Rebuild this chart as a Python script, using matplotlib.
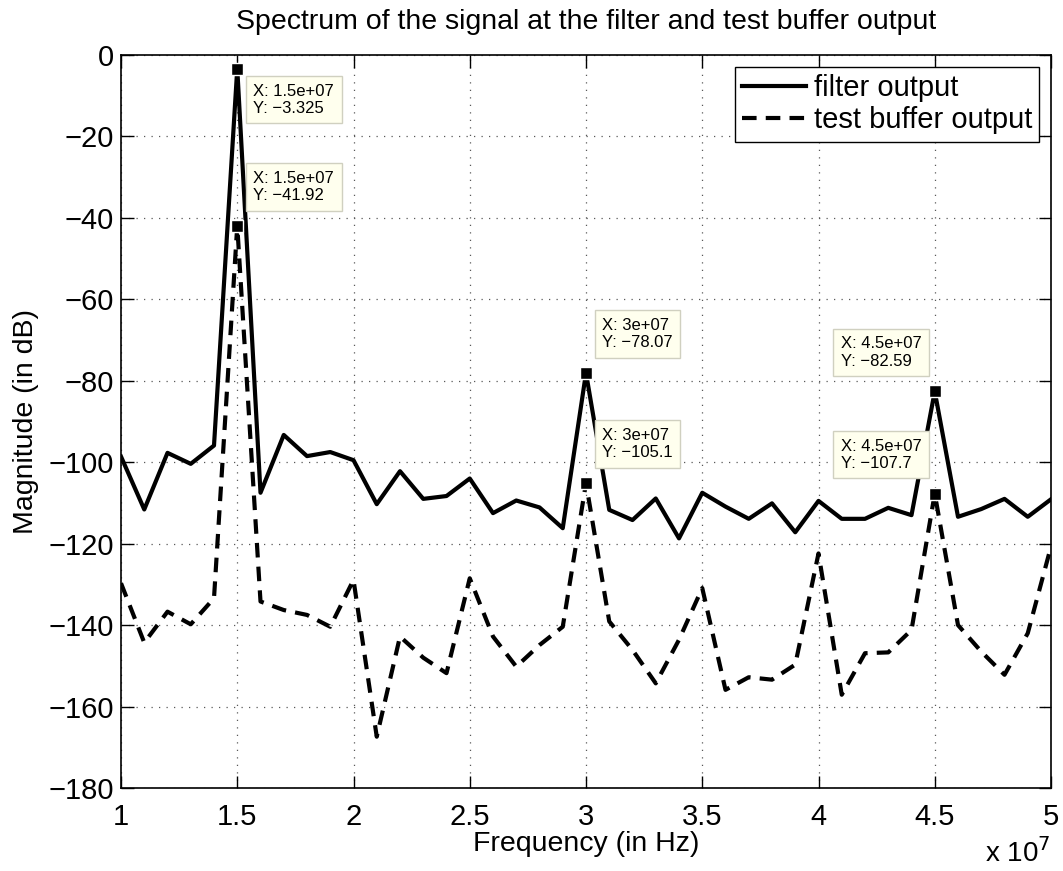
import numpy as np
import matplotlib
matplotlib.use('Agg')
import matplotlib.pyplot as plt

plt.rcParams['font.family'] = ['Liberation Sans', 'DejaVu Sans']

# frequency axis, 10 MHz to 50 MHz in 1 MHz steps
freq = np.arange(10, 51) * 1e6

filter_out = [-98.6, -111.6, -97.7, -100.4, -95.9, -3.325, -107.5, -93.3, -98.5, -97.5,
              -99.5, -110.3, -102.2, -109.0, -108.3, -104.0, -112.5, -109.4, -111.1, -116.2,
              -78.07, -111.7, -114.2, -108.9, -118.7, -107.5, -110.9, -113.9, -110.1, -117.2,
              -109.5, -113.9, -113.9, -111.2, -113.0, -82.59, -113.4, -111.5, -109.0, -113.4,
              -109.1]

buffer_out = [-129.7, -144.3, -136.7, -139.8, -133.4, -41.92, -134.2, -136.3, -137.5, -140.4,
              -128.9, -167.4, -142.8, -148.0, -151.8, -128.5, -142.8, -150.2, -144.9, -140.4,
              -105.1, -139.1, -146.1, -154.3, -143.6, -130.9, -155.9, -152.8, -153.4, -149.7,
              -122.4, -157.1, -146.9, -146.7, -141.2, -107.7, -140.0, -146.5, -152.2, -142.0,
              -120.7]

# data tips: (x, y, text offset in pixels)
tips_x = [1.5e7, 1.5e7, 3e7, 3e7, 4.5e7, 4.5e7]
tips_y = [-3.325, -41.92, -78.07, -105.1, -82.59, -107.7]
tips_lbl = ['1.5e+07', '1.5e+07', '3e+07', '3e+07', '4.5e+07', '4.5e+07']
tips_off = [(16, -15), (16, 55), (16, 55), (16, 55), (-94, 55), (-94, 55)]

W, H = 1063, 871
fig = plt.figure(figsize=(W / 100, H / 100), dpi=100)
ax = fig.add_axes([121 / W, 1 - 788 / H, 930 / W, 733 / H])

ax.plot(freq, filter_out, color='k', lw=3, label='filter output')
ax.plot(freq, buffer_out, color='k', lw=3, dashes=(3.5, 2.2), label='test buffer output')

ax.set_xlim(1e7, 5e7)
ax.set_ylim(-180, 0)
xt = np.arange(1, 5.01, 0.5)
ax.set_xticks(xt * 1e7)
ax.set_xticklabels(['%g' % v for v in xt])
ax.set_yticks(np.arange(-180, 1, 20))

ax.tick_params(direction='in', top=True, right=True, length=9, width=1,
               labelsize=21)
ax.tick_params(axis='x', pad=11)
ax.tick_params(axis='y', pad=5)
ax.grid(True, color='0.35', linestyle=(0, (1, 5)), lw=0.9)
for s in ax.spines.values():
    s.set_linewidth(1.2)

for x, y, lbl, off in zip(tips_x, tips_y, tips_lbl, tips_off):
    ax.plot([x], [y], 's', color='k', ms=9, mec='white', mew=1, zorder=5)
    ax.annotate('X: %s\nY: \u2212%s' % (lbl, ('%g' % -y)), xy=(x, y),
                xytext=off, textcoords='offset pixels', ha='left', va='top',
                fontsize=12, linespacing=1.2, zorder=6,
                bbox=dict(boxstyle='square,pad=0.45', fc='#ffffee', ec='#d0d0c0', lw=1))

ax.set_title('Spectrum of the signal at the filter and test buffer output',
             fontsize=20.5, pad=19)
ax.set_xlabel('Frequency (in Hz)', fontsize=20.5, labelpad=0)
ax.set_ylabel('Magnitude (in dB)', fontsize=20.5, labelpad=7)
fig.text(985 / W, 1 - 862 / H, 'x 10$^{7}$', fontsize=20, ha='left', va='baseline')

leg = ax.legend(loc='upper right', fontsize=21, handlelength=2.2,
                handletextpad=0.25, borderpad=0.25, labelspacing=0.15,
                fancybox=False, framealpha=1, borderaxespad=0.4)
leg.get_frame().set_edgecolor('k')
leg.get_frame().set_linewidth(1)

fig.savefig('out.png', dpi=100)
